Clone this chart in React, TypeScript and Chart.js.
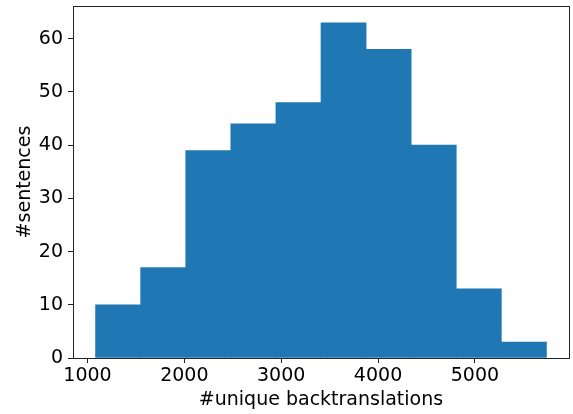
import React, { useEffect, useRef } from "react";
import { Chart, registerables } from "chart.js";

Chart.register(...registerables);

// Histogram bin edges (10 equal bins) and counts per bin
const binEdges = [1083, 1549, 2014, 2480, 2945, 3411, 3877, 4342, 4808, 5273, 5739];
const counts = [10, 17, 39, 44, 48, 63, 58, 40, 13, 3];
const xTicks = [1000, 2000, 3000, 4000, 5000];
const yTicks = [0, 10, 20, 30, 40, 50, 60];

const FONT = "'DejaVu Sans', sans-serif";
const FONT_SIZE = 19;

// Box around the plotting area (top/right spines too)
const framePlugin = {
  id: "frame",
  afterDraw(chart: any) {
    const { ctx, chartArea } = chart;
    ctx.save();
    ctx.strokeStyle = "#222";
    ctx.lineWidth = 1;
    ctx.strokeRect(
      Math.round(chartArea.left) + 0.5,
      Math.round(chartArea.top) + 0.5,
      Math.round(chartArea.right - chartArea.left),
      Math.round(chartArea.bottom - chartArea.top)
    );
    ctx.restore();
  },
};

const noPad = (s: any) => {
  s.paddingTop = 0;
  s.paddingBottom = 0;
  s.paddingLeft = 0;
  s.paddingRight = 0;
};

export default function App() {
  const ref = useRef<HTMLCanvasElement | null>(null);

  useEffect(() => {
    if (!ref.current) return;
    const points = counts.map((c, i) => ({ x: (binEdges[i] + binEdges[i + 1]) / 2, y: c }));
    const span = binEdges[binEdges.length - 1] - binEdges[0];
    const xMin = binEdges[0] - span * 0.05;
    const xMax = binEdges[binEdges.length - 1] + span * 0.05;
    const yMax = Math.max(...counts) * 1.05;

    const chart = new Chart(ref.current, {
      type: "bar",
      data: {
        datasets: [
          {
            data: points as any,
            backgroundColor: "#1f77b4",
            borderWidth: 0,
            barPercentage: 1,
            categoryPercentage: 1,
          },
        ],
      },
      plugins: [framePlugin],
      options: {
        animation: false,
        responsive: false,
        maintainAspectRatio: false,
        layout: { padding: { top: 6, right: 4, left: 0, bottom: 0 } },
        plugins: { legend: { display: false }, tooltip: { enabled: false } },
        scales: {
          x: {
            type: "linear",
            min: xMin,
            max: xMax,
            offset: false,
            afterBuildTicks: (s: any) => {
              s.ticks = xTicks.map((v) => ({ value: v }));
            },
            afterFit: (s: any) => {
              s.height = 56;
              noPad(s);
            },
            grid: {
              display: true,
              offset: false,
              drawOnChartArea: false,
              drawTicks: true,
              tickLength: 5,
              color: "#222",
            },
            border: { display: true, color: "#222" },
            ticks: {
              color: "#000",
              font: { family: FONT, size: FONT_SIZE },
              padding: 2,
              maxRotation: 0,
              autoSkip: false,
              callback: (v: any) => String(v),
            },
            title: {
              display: true,
              text: "#unique backtranslations",
              color: "#000",
              font: { family: FONT, size: FONT_SIZE },
              padding: { top: 0, bottom: 3 },
            },
          },
          y: {
            min: 0,
            max: yMax,
            afterBuildTicks: (s: any) => {
              s.ticks = yTicks.map((v) => ({ value: v }));
            },
            afterFit: (s: any) => {
              s.width = 73;
              noPad(s);
            },
            grid: {
              display: true,
              drawOnChartArea: false,
              drawTicks: true,
              tickLength: 5,
              color: "#222",
            },
            border: { display: true, color: "#222" },
            ticks: {
              color: "#000",
              font: { family: FONT, size: FONT_SIZE },
              padding: 5,
              autoSkip: false,
            },
            title: {
              display: true,
              text: "#sentences",
              color: "#000",
              font: { family: FONT, size: FONT_SIZE },
              padding: { top: 14, bottom: 0 },
            },
          },
        },
      },
    });
    return () => chart.destroy();
  }, []);

  return (
    <div style={{ position: "absolute", left: 0, top: 0, width: 573, height: 414, background: "#fff" }}>
      <canvas ref={ref} width={573} height={414} style={{ width: 573, height: 414, display: "block" }} />
    </div>
  );
}
